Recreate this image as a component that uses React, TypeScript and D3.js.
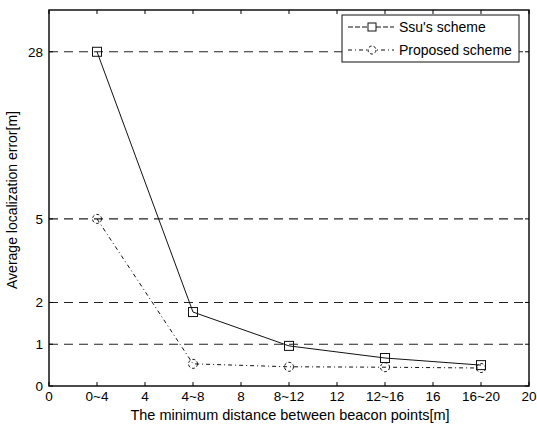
import React from "react";
import * as d3 from "d3";

const xTicks = [0, 2, 4, 6, 8, 10, 12, 14, 16, 18, 20];
const xTickLabels = ["0", "0~4", "4", "4~8", "8", "8~12", "12", "12~16", "16", "16~20", "20"];
const yTicks = [0, 1, 2, 5, 28];
const xPos = [2, 6, 10, 14, 18];
const ssuValues = [28, 1.77, 0.96, 0.67, 0.5];
const proposedValues = [5, 0.53, 0.46, 0.45, 0.43];

const W = 537, H = 424;
const L = 49, R = 529, T = 10, B = 386;

export default function App() {
  const x = d3.scaleLinear().domain([0, 20]).range([L, R]);
  const unit = (B - T) / 9;
  const y = d3
    .scaleLinear()
    .domain([0, 1, 2, 5, 28, 33.75])
    .range([B, B - unit, B - 2 * unit, B - 4 * unit, B - 8 * unit, T]);

  const line = d3
    .line<number>()
    .x((_, i) => x(xPos[i]))
    .y((d) => y(d));

  const font = "Liberation Sans, Arial, sans-serif";

  return (
    <svg width={W} height={H} style={{ position: "absolute", left: 0, top: 0, background: "#fff" }} fontFamily={font}>
      <rect x={0} y={0} width={W} height={H} fill="#fff" />
      {yTicks.filter((t) => t > 0).map((t) => (
        <line key={t} x1={L} x2={R} y1={y(t)} y2={y(t)} stroke="#222" strokeWidth={1.1} strokeDasharray="9,6" />
      ))}
      <rect x={L} y={T} width={R - L} height={B - T} fill="none" stroke="#000" strokeWidth={1.4} />
      {xTicks.map((t, i) => (
        <g key={t}>
          <line x1={x(t)} x2={x(t)} y1={B} y2={B - 4} stroke="#000" />
          <line x1={x(t)} x2={x(t)} y1={T} y2={T + 4} stroke="#000" />
          <text x={x(t)} y={B + 15} textAnchor="middle" fontSize={13.5} fill="#000">
            {xTickLabels[i]}
          </text>
        </g>
      ))}
      {yTicks.map((t) => (
        <g key={t}>
          <line x1={L} x2={L + 4} y1={y(t)} y2={y(t)} stroke="#000" />
          <line x1={R} x2={R - 4} y1={y(t)} y2={y(t)} stroke="#000" />
          <text x={L - 6} y={y(t) + 5} textAnchor="end" fontSize={13.5} fill="#000">
            {t}
          </text>
        </g>
      ))}
      <path d={line(ssuValues) || ""} fill="none" stroke="#111" strokeWidth={1} />
      <path d={line(proposedValues) || ""} fill="none" stroke="#111" strokeWidth={1} strokeDasharray="4,3,1,3" />
      {ssuValues.map((v, i) => (
        <rect key={"s" + i} x={x(xPos[i]) - 4.5} y={y(v) - 4.5} width={9} height={9} fill="none" stroke="#111" strokeWidth={1} />
      ))}
      {proposedValues.map((v, i) => (
        <circle key={"p" + i} cx={x(xPos[i])} cy={y(v)} r={4.5} fill="none" stroke="#111" strokeWidth={1} strokeDasharray="3,2" />
      ))}
      <rect x={342} y={15} width={177} height={47} fill="#fff" stroke="#111" strokeWidth={1} />
      <line x1={348} x2={394} y1={27} y2={27} stroke="#111" strokeDasharray="5,2" />
      <rect x={368} y={23} width={8} height={8} fill="#fff" stroke="#111" />
      <text x={399} y={32} fontSize={14} fill="#000">Ssu's scheme</text>
      <line x1={348} x2={394} y1={50} y2={50} stroke="#111" strokeDasharray="4,3,1,3" />
      <circle cx={372} cy={50} r={4} fill="#fff" stroke="#111" strokeDasharray="3,2" />
      <text x={399} y={55} fontSize={14} fill="#000">Proposed scheme</text>
      <text x={290} y={420} textAnchor="middle" fontSize={14.5} fill="#000">
        The minimum distance between beacon points[m]
      </text>
      <text transform={`translate(17,200) rotate(-90)`} textAnchor="middle" fontSize={14} fill="#000">
        Average localization error[m]
      </text>
    </svg>
  );
}
